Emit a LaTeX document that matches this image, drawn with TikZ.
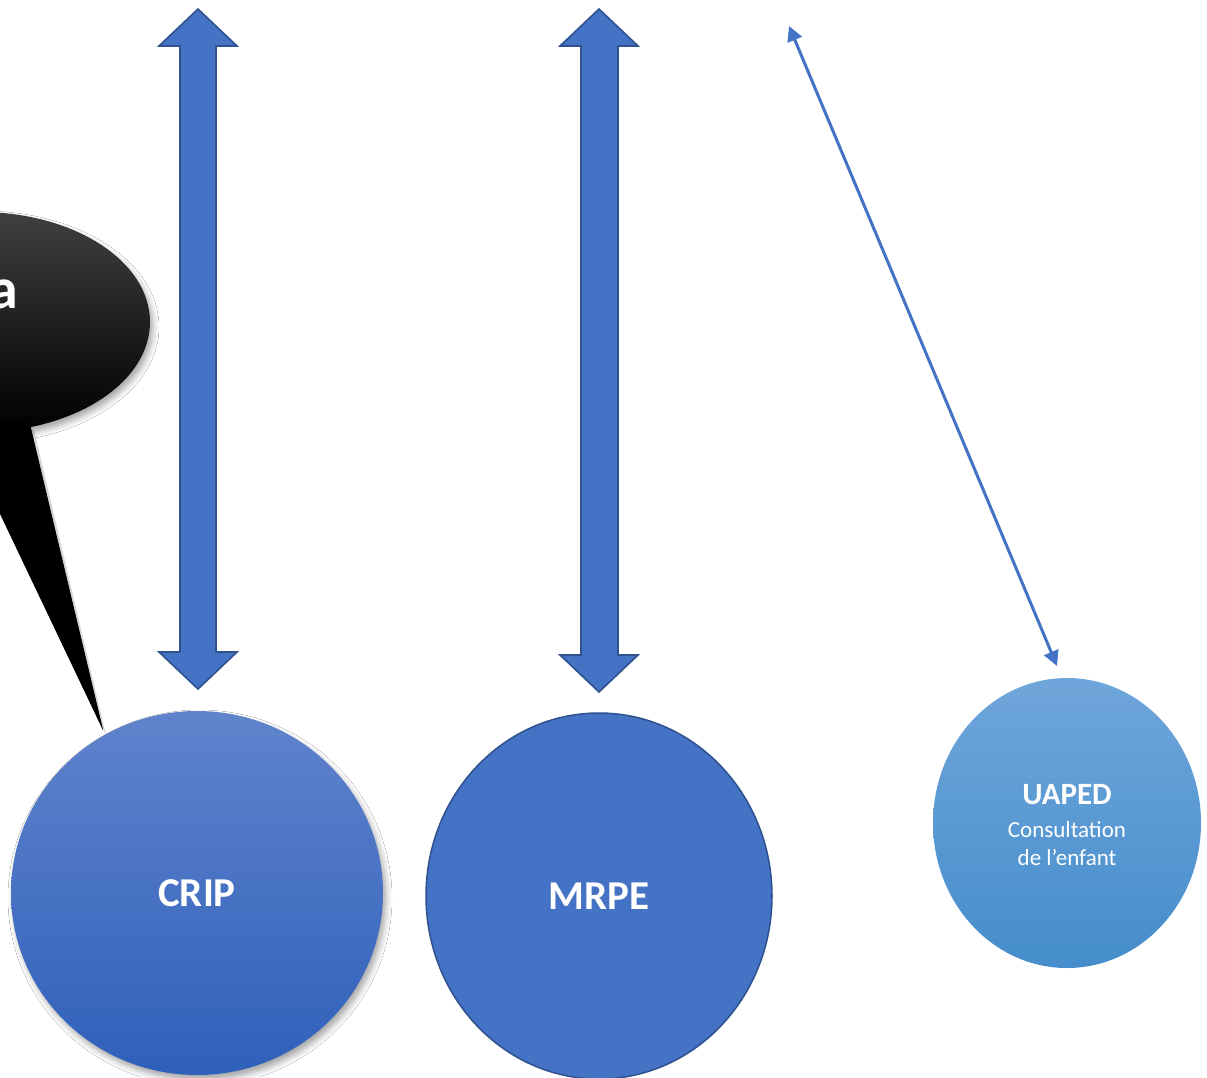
\documentclass[tikz,border=0pt]{standalone}
\usepackage{fontspec}
\setmainfont{Carlito}
\usetikzlibrary{shapes.geometric,shadows.blur,arrows.meta}
\definecolor{obBlue}{HTML}{4472C4}
\definecolor{obBorder}{HTML}{2F528F}
\definecolor{cripTop}{RGB}{96,131,204}
\definecolor{cripBot}{RGB}{47,96,186}
\definecolor{uaTop}{RGB}{111,166,218}
\definecolor{uaBot}{RGB}{69,141,204}
\tikzset{
  bigarrow/.style={fill=obBlue,draw=obBorder,line width=1.6pt,line join=miter},
  thinarrowboth/.style={draw=obBlue,line width=3pt,{Triangle[length=15pt,width=15pt]}-{Triangle[length=15pt,width=15pt]}},
  bubble/.style={ellipse,inner sep=0pt,text=white},
  softshadow/.style={blur shadow={shadow xshift=3pt,shadow yshift=-5pt,shadow blur radius=6pt,shadow opacity=35}}
}
\begin{document}
\begin{tikzpicture}[x=1pt,y=-1pt]
\useasboundingbox (0,0) rectangle (1207,1077);
\clip (0,0) rectangle (1207,1077);
\fill[white] (0,0) rectangle (1207,1077);

% callout
\fill[black!40,opacity=0.4] (-38,434) -- (106,735) -- (34,430) -- cycle;
\fill[black] (-40,430) -- (103,730) -- (30,426) -- cycle;
\node[ellipse,minimum width=340pt,minimum height=220pt,inner sep=0pt,
  top color=black!75,bottom color=black,softshadow] (callout) at (-20,322) {};
\fill[black] (-40,428) -- (103,730) -- (30,424) -- (0,420) -- cycle;
\node[text=white,font=\bfseries\fontsize{58}{60}\selectfont,anchor=base east,inner sep=0pt] (calltext) at (18,308) {a};

% big double arrows
\coordinate (a1top) at (198,9);
\coordinate (a1bot) at (198,689);
\draw[bigarrow] (a1top) -- (237,46) -- (216,46) -- (216,652) -- (237,652) -- (a1bot) -- (159,652) -- (180,652) -- (180,46) -- (159,46) -- cycle;
\coordinate (a2top) at (599,9);
\coordinate (a2bot) at (599,692);
\draw[bigarrow] (a2top) -- (638,46) -- (618,46) -- (618,655) -- (638,655) -- (a2bot) -- (560,655) -- (581,655) -- (581,46) -- (560,46) -- cycle;

% circles
\node[bubble,minimum width=372pt,minimum height=364pt,top color=cripTop,bottom color=cripBot,softshadow,
  font=\bfseries\fontsize{41}{44}\selectfont] (crip) at (197,893) {CRIP};
\node[bubble,minimum width=346pt,minimum height=366pt,fill=obBlue,draw=obBorder,line width=1.5pt,
  font=\bfseries\fontsize{41}{44}\selectfont] (mrpe) at (599,896) {MRPE};
\node[bubble,minimum width=268pt,minimum height=290pt,top color=uaTop,bottom color=uaBot] (uaped) at (1067,823) {};
\node[text=white,font=\bfseries\fontsize{31}{34}\selectfont] (uatitle) at (1067,795) {UAPED};
\node[text=white,font=\fontsize{23}{28}\selectfont,align=center] (uasub) at (1067,844) {Consultation\\de l’enfant};

% thin arrow
\coordinate (tstart) at (789,26);
\coordinate (tend) at (1057,666);
\draw[thinarrowboth] (tstart) -- (tend);
\end{tikzpicture}
\end{document}
